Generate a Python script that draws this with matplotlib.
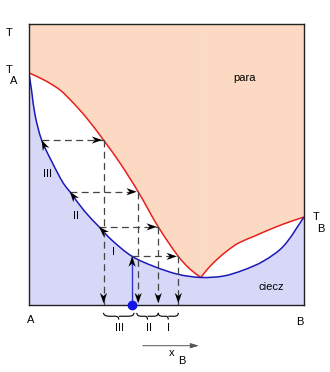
import numpy as np
import matplotlib.pyplot as plt
from matplotlib.path import Path
import matplotlib.patches as mpatches
import matplotlib.transforms as mtransforms

plt.rcParams['font.family'] = ['Liberation Sans', 'DejaVu Sans']

W, H = 330, 372

# krzywa rosy (para) - x_B, T ; lewa i prawa galaz od azeotropu
x_para_l = [0.0, 0.058, 0.113, 0.161, 0.210, 0.271, 0.331, 0.397, 0.470, 0.543, 0.585, 0.625]
T_para_l = [82.6, 79.9, 76.5, 71.9, 66.5, 58.7, 50.5, 40.3, 27.8, 17.3, 12.8, 9.8]
x_para_p = [0.625, 0.652, 0.688, 0.725, 0.761, 0.822, 0.852, 0.925, 1.0]
T_para_p = [9.8, 13.1, 16.6, 19.6, 22.0, 24.6, 25.9, 28.8, 31.3]

# krzywa wrzenia (ciecz)
x_ciecz = [0.0, 0.010, 0.022, 0.046, 0.083, 0.125, 0.149, 0.200, 0.255, 0.301, 0.375, 0.458,
           0.543, 0.625, 0.707, 0.779, 0.852, 0.925, 1.0]
T_ciecz = [82.6, 75.9, 67.6, 58.7, 51.0, 43.3, 40.3, 33.6, 27.8, 23.1, 17.3, 13.6,
           10.9, 9.8, 10.3, 12.4, 15.6, 20.9, 31.3]

# stopnie destylacji: poziom T, sklad cieczy, sklad pary
T_stopnie = [17.3, 27.8, 40.3, 58.7]
x_liq = [0.375, 0.255, 0.149, 0.046]
x_vap = [0.543, 0.470, 0.397, 0.271]
x_start = 0.375

# klamry pod osia
klamry = [(0.271, 0.382, 'III'), (0.392, 0.470, 'II'), (0.470, 0.543, 'I')]

fig = plt.figure(figsize=(W / 100, H / 100), dpi=100)
ax = fig.add_axes([29 / W, 1 - 305 / H, 275 / W, 281 / H])
ax.set_xlim(0, 1)
ax.set_ylim(0, 100)
ax.set_xticks([])
ax.set_yticks([])
for s in ax.spines.values():
    s.set_color('#222222')
    s.set_linewidth(1.0)

SX, SY = 275.0, 2.81  # przyblizona skala piksele/jednostka


def gladka(xs, ys):
    # krzywa Beziera przechodzaca przez odczytane punkty
    P = np.column_stack([np.array(xs) * SX, np.array(ys) * SY])
    n = len(P)
    tang = []
    for i in range(n):
        a = P[max(i - 1, 0)]
        b = P[min(i + 1, n - 1)]
        d = b - a
        tang.append(d / np.hypot(*d))
    verts = [P[0]]
    codes = [Path.MOVETO]
    for i in range(n - 1):
        L = np.hypot(*(P[i + 1] - P[i])) / 3
        verts += [P[i] + tang[i] * L, P[i + 1] - tang[i + 1] * L, P[i + 1]]
        codes += [Path.CURVE4] * 3
    verts = np.array(verts) / [SX, SY]
    return verts, codes


def krzywa(xs, ys, **kw):
    v, c = gladka(xs, ys)
    ax.add_patch(mpatches.PathPatch(Path(v, c), fill=False, **kw))


def obszar(xs, ys, ygr, **kw):
    v, c = gladka(xs, ys)
    v = np.vstack([v, [[xs[-1], ygr], [xs[0], ygr], [xs[0], ys[0]]]])
    c = list(c) + [Path.LINETO, Path.LINETO, Path.CLOSEPOLY]
    ax.add_patch(mpatches.PathPatch(Path(v, c), lw=0, **kw))


obszar(x_para_l, T_para_l, 100, color='#FBD9C2')
obszar(x_para_p, T_para_p, 100, color='#FBD9C2')
obszar(x_ciecz, T_ciecz, 0, color='#D7D7F8')
krzywa(x_para_l, T_para_l, color='#E8201C', lw=1.1)
krzywa(x_para_p, T_para_p, color='#E8201C', lw=1.1)
krzywa(x_ciecz, T_ciecz, color='#1A1AB8', lw=1.1)


def grot(x, y, x2, y2, kolor='black'):
    # grot w ksztalcie "stealth", czubek w (x, y), skierowany od (x2, y2)
    p1 = ax.transData.transform((x, y))
    p2 = ax.transData.transform((x2, y2))
    kat = np.degrees(np.arctan2(p1[1] - p2[1], p1[0] - p2[0]))
    ksz = [(0, 0), (-7.5, 2.6), (-5.2, 0), (-7.5, -2.6)]
    tr = (mtransforms.Affine2D().rotate_deg(kat).scale(fig.dpi / 72)
          + mtransforms.ScaledTranslation(x, y, ax.transData))
    ax.add_patch(mpatches.Polygon(ksz, closed=True, transform=tr, color=kolor,
                                  lw=0, clip_on=False, zorder=6))


dash = dict(color='#444444', lw=0.9, dashes=(5.5, 3.5))

# punkt startowy i ogrzewanie
ax.plot([x_start, x_start], [0, T_stopnie[0]], color='#3333CC', lw=1.0)
ax.plot([x_start], [0], 'o', color='#1414E6', ms=6, clip_on=False, zorder=5)
grot(x_start, T_stopnie[0], x_start, 0)

for i, (T, xl, xv) in enumerate(zip(T_stopnie, x_liq, x_vap)):
    ax.plot([xl, xv], [T, T], **dash)
    grot(xv - 0.005, T, xl, T)
    ax.plot([xv, xv], [T, 0], **dash)
    grot(xv, 0.6, xv, T)
    if i > 0:
        k = x_ciecz.index(xl)
        grot(xl, T, x_ciecz[k + 1], T_ciecz[k + 1])


def klamra(x0, x1, y0, h):
    xm = (x0 + x1) / 2
    d = x1 - x0
    verts = [(x0, y0), (x0, y0 - h / 2), (x0 + 0.2 * d, y0 - h / 2),
             (xm - 0.12 * d, y0 - h / 2), (xm, y0 - h / 2), (xm, y0 - h),
             (xm, y0 - h / 2), (xm + 0.12 * d, y0 - h / 2),
             (x1 - 0.2 * d, y0 - h / 2), (x1, y0 - h / 2), (x1, y0)]
    codes = [Path.MOVETO, Path.CURVE3, Path.CURVE3, Path.LINETO, Path.CURVE3, Path.CURVE3,
             Path.MOVETO, Path.LINETO, Path.LINETO, Path.CURVE3, Path.CURVE3]
    ax.add_patch(mpatches.PathPatch(Path(verts, codes), fill=False, color='black',
                                    lw=0.8, clip_on=False))


for x0, x1, lab in klamry:
    klamra(x0, x1, -2.8, 2.4)

fs = 8


def napis(px, py, s, **kw):
    fig.text(px / W, 1 - py / H, s, ha='center', va='center', fontsize=fs, **kw)


napis(119, 328, 'III')
napis(149, 328, 'II')
napis(169, 328, 'I')
napis(47.7, 174, 'III')
napis(76, 216, 'II')
napis(113.3, 251.7, 'I')

napis(9, 33, 'T')
napis(9, 70, 'T')
napis(14, 81, 'A')
napis(315.7, 217, 'T')
napis(320.7, 228.7, 'B')
napis(31, 320, 'A')
napis(300, 322, 'B')
napis(245, 78, 'para')
napis(271.7, 287, 'ciecz')
napis(171.7, 353, 'x')
napis(181.7, 361, 'B')

fig.add_artist(mpatches.FancyArrowPatch((140 / W, 1 - 345.7 / H), (201.7 / W, 1 - 345.7 / H),
                                        transform=fig.transFigure,
                                        arrowstyle='-|>,head_length=1.0,head_width=0.3',
                                        mutation_scale=5, color='#555555', lw=0.7))

fig.savefig('out.png', dpi=100)
